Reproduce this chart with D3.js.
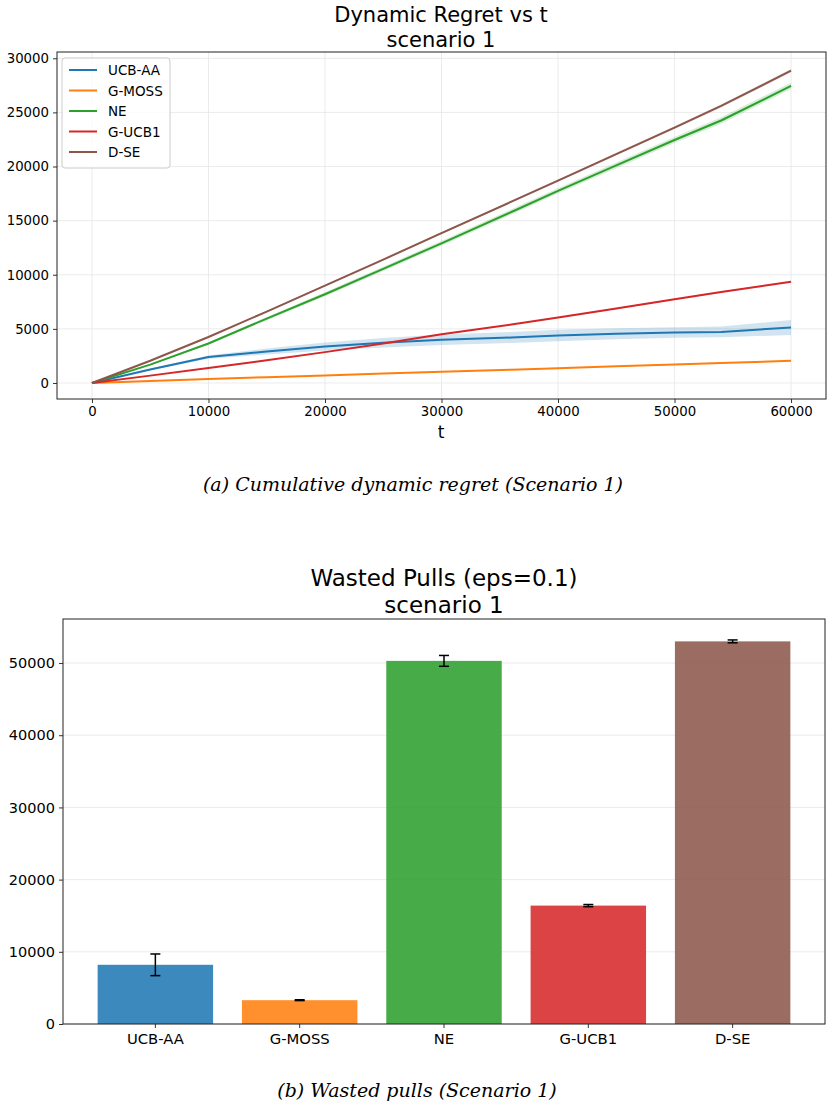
<!DOCTYPE html>
<html>
<head>
<meta charset="utf-8">
<script src="https://cdn.jsdelivr.net/npm/d3@7"></script>
<style>
  body { margin: 0; background: #fff; }
  text { font-family: "DejaVu Sans", sans-serif; fill: #000; }
  .caption { font-family: "DejaVu Serif", serif; font-style: italic; }
  .grid line { stroke: #e6e6e6; stroke-width: 0.8; }
</style>
</head>
<body>
<svg id="chart" width="833" height="1110"></svg>
<script>
// ---- data: cumulative dynamic regret ----
var tSteps = [0, 5000, 10000, 15000, 20000, 25000, 30000, 36000, 40000, 45000, 50000, 54000, 60000];
var algs = ["UCB-AA", "G-MOSS", "NE", "G-UCB1", "D-SE"];
var colors = ["#1f77b4", "#ff7f0e", "#2ca02c", "#d62728", "#8c564b"];

var regretUCBAA = [0, 1250, 2400, 2900, 3370, 3720, 3990, 4200, 4390, 4540, 4660, 4720, 5120];
var bandUCBAA   = [0, 80, 150, 280, 370, 440, 490, 510, 530, 510, 490, 490, 690];
var regretGMOSS = [0, 180, 370, 540, 700, 870, 1030, 1230, 1370, 1540, 1710, 1850, 2050];
var bandGMOSS   = [0, 10, 15, 20, 25, 25, 30, 30, 35, 35, 40, 40, 45];
var regretNE    = [0, 1700, 3650, 5950, 8200, 10550, 12900, 15800, 17750, 20100, 22450, 24250, 27450];
var bandNE      = [0, 60, 100, 150, 180, 200, 220, 240, 250, 270, 280, 290, 300];
var regretGUCB1 = [0, 680, 1380, 2100, 2850, 3650, 4500, 5400, 6040, 6880, 7730, 8400, 9350];
var bandGUCB1   = [0, 15, 25, 30, 35, 40, 45, 50, 55, 60, 60, 65, 70];
var regretDSE   = [0, 2050, 4250, 6600, 9000, 11400, 13850, 16750, 18700, 21150, 23600, 25600, 28850];
var bandDSE     = [0, 30, 50, 60, 70, 80, 90, 100, 110, 120, 130, 140, 150];

var regretMeans = [regretUCBAA, regretGMOSS, regretNE, regretGUCB1, regretDSE];
var regretBands = [bandUCBAA, bandGMOSS, bandNE, bandGUCB1, bandDSE];

// ---- data: wasted pulls ----
var wastedMean = [8200, 3300, 50300, 16400, 53000];
var wastedErr  = [1500, 60, 750, 150, 200];

var xTicksTop = [0, 10000, 20000, 30000, 40000, 50000, 60000];
var yTicksTop = [0, 5000, 10000, 15000, 20000, 25000, 30000];
var yTicksBot = [0, 10000, 20000, 30000, 40000, 50000];

var svg = d3.select("#chart");

function styleAxis(a, size) {
  a.select(".domain").remove();
  a.selectAll("text").style("font-size", size).style("font-family", "DejaVu Sans");
  a.selectAll("line").attr("stroke", "#333");
}

// ================= top panel =================
var box1 = { left: 57, right: 826, top: 52, bottom: 399 };
var x1 = d3.scaleLinear().domain([-3000, 63000]).range([box1.left, box1.right]);
var y1 = d3.scaleLinear().domain([-1480, 30580]).range([box1.bottom, box1.top]);

var g1 = svg.append("g");

g1.append("g").attr("class", "grid")
  .selectAll("line").data(xTicksTop).enter().append("line")
  .attr("x1", d => x1(d)).attr("x2", d => x1(d))
  .attr("y1", box1.top).attr("y2", box1.bottom);
g1.append("g").attr("class", "grid")
  .selectAll("line").data(yTicksTop).enter().append("line")
  .attr("y1", d => y1(d)).attr("y2", d => y1(d))
  .attr("x1", box1.left).attr("x2", box1.right);

var area = d3.area()
  .x((d, i) => x1(tSteps[i]))
  .y0(d => y1(d[0]))
  .y1(d => y1(d[1]));
var line = d3.line()
  .x((d, i) => x1(tSteps[i]))
  .y(d => y1(d));

algs.forEach(function (name, k) {
  var m = regretMeans[k], b = regretBands[k];
  var pts = m.map((v, i) => [v - b[i], v + b[i]]);
  g1.append("path").attr("d", area(pts))
    .attr("fill", colors[k]).attr("fill-opacity", 0.2).attr("stroke", "none");
});
algs.forEach(function (name, k) {
  g1.append("path").attr("d", line(regretMeans[k]))
    .attr("fill", "none").attr("stroke", colors[k]).attr("stroke-width", 2)
    .attr("stroke-linejoin", "round");
});

var ax1 = g1.append("g").attr("transform", "translate(0," + box1.bottom + ")")
  .call(d3.axisBottom(x1).tickValues(xTicksTop).tickFormat(d3.format("d")).tickSize(4).tickPadding(4));
var ay1 = g1.append("g").attr("transform", "translate(" + box1.left + ",0)")
  .call(d3.axisLeft(y1).tickValues(yTicksTop).tickFormat(d3.format("d")).tickSize(4).tickPadding(4));
styleAxis(ax1, "13.3px");
styleAxis(ay1, "13.3px");

g1.append("rect").attr("x", box1.left).attr("y", box1.top)
  .attr("width", box1.right - box1.left).attr("height", box1.bottom - box1.top)
  .attr("fill", "none").attr("stroke", "#222").attr("stroke-width", 1);

// legend
var leg = g1.append("g").attr("transform", "translate(62,58)");
leg.append("rect").attr("width", 108).attr("height", 110).attr("rx", 3)
  .attr("fill", "#fff").attr("fill-opacity", 0.8).attr("stroke", "#ccc");
algs.forEach(function (name, k) {
  var yy = 12 + k * 20.5;
  leg.append("line").attr("x1", 7).attr("x2", 35).attr("y1", yy).attr("y2", yy)
    .attr("stroke", colors[k]).attr("stroke-width", 2);
  leg.append("text").attr("x", 46).attr("y", yy + 5).text(name).style("font-size", "13.5px");
});

svg.append("text").attr("x", 441).attr("y", 22).attr("text-anchor", "middle")
  .style("font-size", "21px").text("Dynamic Regret vs t");
svg.append("text").attr("x", 441).attr("y", 47).attr("text-anchor", "middle")
  .style("font-size", "21px").text("scenario 1");
svg.append("text").attr("x", 441).attr("y", 438).attr("text-anchor", "middle")
  .style("font-size", "17px").text("t");
svg.append("text").attr("class", "caption").attr("x", 413).attr("y", 491)
  .attr("text-anchor", "middle").style("font-size", "19px")
  .text("(a) Cumulative dynamic regret (Scenario 1)");

// ================= bottom panel =================
var box2 = { left: 63, right: 825, top: 619, bottom: 1024 };
var x2 = d3.scaleBand().domain(algs).range([box2.left, box2.right])
  .paddingInner(0.2).paddingOuter(0.24);
var y2 = d3.scaleLinear().domain([0, 56100]).range([box2.bottom, box2.top]);

var g2 = svg.append("g");
g2.append("g").attr("class", "grid")
  .selectAll("line").data(yTicksBot).enter().append("line")
  .attr("y1", d => y2(d)).attr("y2", d => y2(d))
  .attr("x1", box2.left).attr("x2", box2.right);

g2.selectAll("rect.bar").data(algs).enter().append("rect")
  .attr("class", "bar")
  .attr("x", d => x2(d)).attr("width", x2.bandwidth())
  .attr("y", (d, i) => y2(wastedMean[i]))
  .attr("height", (d, i) => y2(0) - y2(wastedMean[i]))
  .attr("fill", (d, i) => colors[i]).attr("fill-opacity", 0.87);

algs.forEach(function (name, i) {
  var cx = x2(name) + x2.bandwidth() / 2;
  var lo = y2(wastedMean[i] - wastedErr[i]), hi = y2(wastedMean[i] + wastedErr[i]);
  var eg = g2.append("g").attr("stroke", "#000").attr("stroke-width", 1.5);
  eg.append("line").attr("x1", cx).attr("x2", cx).attr("y1", lo).attr("y2", hi);
  eg.append("line").attr("x1", cx - 5).attr("x2", cx + 5).attr("y1", lo).attr("y2", lo);
  eg.append("line").attr("x1", cx - 5).attr("x2", cx + 5).attr("y1", hi).attr("y2", hi);
});

var ax2 = g2.append("g").attr("transform", "translate(0," + box2.bottom + ")")
  .call(d3.axisBottom(x2).tickSize(4).tickPadding(5));
var ay2 = g2.append("g").attr("transform", "translate(" + box2.left + ",0)")
  .call(d3.axisLeft(y2).tickValues(yTicksBot).tickFormat(d3.format("d")).tickSize(4).tickPadding(4));
styleAxis(ax2, "14.8px");
styleAxis(ay2, "14.5px");

g2.append("rect").attr("x", box2.left).attr("y", box2.top)
  .attr("width", box2.right - box2.left).attr("height", box2.bottom - box2.top)
  .attr("fill", "none").attr("stroke", "#222").attr("stroke-width", 1);

svg.append("text").attr("x", 444).attr("y", 586).attr("text-anchor", "middle")
  .style("font-size", "23px").text("Wasted Pulls (eps=0.1)");
svg.append("text").attr("x", 444).attr("y", 613).attr("text-anchor", "middle")
  .style("font-size", "23px").text("scenario 1");
svg.append("text").attr("class", "caption").attr("x", 417).attr("y", 1097)
  .attr("text-anchor", "middle").style("font-size", "19px")
  .text("(b) Wasted pulls (Scenario 1)");
</script>
</body>
</html>
